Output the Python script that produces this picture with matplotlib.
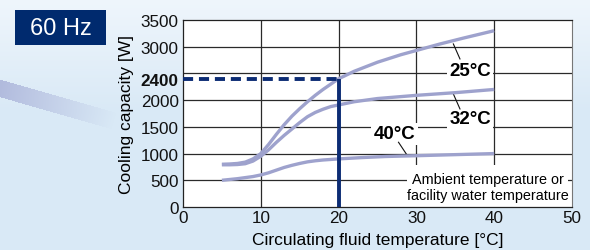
import numpy as np
import matplotlib
matplotlib.use("Agg")
import matplotlib.pyplot as plt
from matplotlib.colors import to_rgb
from matplotlib.patches import Rectangle

plt.rcParams["font.family"] = ["Liberation Sans", "DejaVu Sans"]

# ---- data ----
temp_25 = [5, 6, 7, 8, 9, 10, 11, 12, 13, 14, 15, 16, 17, 18, 19, 20, 22, 25, 28, 30, 33, 36, 40]
cap_25 = [800, 805, 815, 840, 900, 1000, 1170, 1360, 1540, 1700, 1840, 1970, 2090, 2200, 2300, 2400,
          2540, 2710, 2850, 2930, 3050, 3160, 3300]
temp_32 = [5, 6, 7, 8, 9, 10, 11, 12, 13, 14, 15, 16, 17, 18, 19, 20, 22, 25, 30, 35, 40]
cap_32 = [790, 790, 795, 810, 860, 950, 1070, 1210, 1340, 1460, 1580, 1690, 1770, 1830, 1880, 1910,
          1970, 2030, 2090, 2140, 2200]
temp_40 = [5, 7, 9, 10, 11, 12, 13, 14, 15, 16, 17, 18, 20, 23, 26, 30, 35, 40]
cap_40 = [500, 530, 570, 600, 640, 690, 740, 780, 815, 845, 865, 880, 900, 925, 945, 960, 980, 1000]
op_temp = 20
op_cap = 2400
y_ticks = [0, 500, 1000, 1500, 2000, 2400, 3000, 3500]
y_grid = [500, 1000, 1500, 2000, 2500, 3000]
x_ticks = [0, 10, 20, 30, 40, 50]

CURVE = "#9ea2cd"
NAVY = "#0c2c74"
GRID = "#2a2a2a"

W, H = 590, 251
fig = plt.figure(figsize=(W / 100, H / 100), dpi=100)

# background gradient + decorative stripe
bg = fig.add_axes([0, 0, 1, 1])
bg.axis("off")
yy, xx = np.mgrid[0:H, 0:W].astype(float)
top = np.array(to_rgb("#eff6fc"))
bot = np.array(to_rgb("#d9e9f6"))
f = np.clip(yy / (H * 0.45), 0, 1)[..., None]
img = top * (1 - f) + bot * f
ang = np.deg2rad(16)
s = xx * np.cos(ang) + (yy - 89) * np.sin(ang)
d = -xx * np.sin(ang) + (yy - 89) * np.cos(ang)
a = (np.clip(1 - s / 118, 0, 1) * (np.abs(d) < 8.5) * 0.75)[..., None]
img = img * (1 - a) + np.array(to_rgb("#a3abd5")) * a
bg.imshow(img, extent=[0, W, H, 0], aspect="auto")
bg.set_xlim(0, W); bg.set_ylim(H, 0)
bg.add_patch(Rectangle((15, 11), 91, 35, fc="#002a6e", ec="none"))
bg.text(60.5, 29, "60 Hz", color="white", fontsize=17, ha="center", va="center")

# main chart
ax = fig.add_axes([183 / W, 43 / H, 389 / W, 187 / H])
ax.set_facecolor("white")
ax.set_xlim(0, 50); ax.set_ylim(0, 3500)
ax.set_xticks(x_ticks)
ax.set_yticks(y_ticks)
ax.set_yticklabels([str(v) for v in y_ticks])
for lab in ax.get_yticklabels():
    if lab.get_text() == str(op_cap):
        lab.set_fontweight("bold")
ax.tick_params(axis="both", which="both", length=0, labelsize=12.3, colors="#111")
ax.tick_params(axis="y", pad=3)
ax.tick_params(axis="x", pad=2)
ax.grid(False)
for xv in x_ticks[1:-1]:
    ax.axvline(xv, color=GRID, lw=0.9, zorder=0.5)
for yv in y_grid:
    ax.axhline(yv, color=GRID, lw=0.9, zorder=0.5)
for sp in ["left", "bottom", "top"]:
    ax.spines[sp].set_color("#222")
    ax.spines[sp].set_linewidth(0.9)
ax.spines["right"].set_color("#777")
ax.set_xlabel("Circulating fluid temperature [°C]", fontsize=12.5, labelpad=5)
ax.set_ylabel("Cooling capacity [W]", fontsize=12.5, labelpad=5)

ax.plot(temp_25, cap_25, color=CURVE, lw=2.4, solid_capstyle="butt", zorder=3)
ax.plot(temp_32, cap_32, color=CURVE, lw=2.4, solid_capstyle="butt", zorder=3)
ax.plot(temp_40, cap_40, color=CURVE, lw=2.4, solid_capstyle="butt", zorder=3)

ax.plot([0, op_temp], [op_cap, op_cap], color=NAVY, lw=2.8, dashes=(2.6, 1.5), zorder=4, clip_on=False)
ax.plot([op_temp, op_temp], [0, op_cap], color=NAVY, lw=2.8, zorder=4, solid_capstyle="butt")

box = dict(boxstyle="square,pad=0.12", fc="white", ec="none")
ax.text(36.9, 2554, "25°C", fontsize=13.5, fontweight="bold", ha="center", va="center", bbox=box, zorder=2)
ax.text(36.9, 1648, "32°C", fontsize=13.5, fontweight="bold", ha="center", va="center", bbox=box, zorder=2)
ax.text(27.2, 1367, "40°C", fontsize=13.5, fontweight="bold", ha="center", va="center", bbox=box, zorder=2)
for (x0, y0), (x1, y1) in [((34.75, 3052), (35.6, 2771)),
                           ((34.75, 2116), (35.6, 1835)),
                           ((27.7, 1212), (28.7, 993))]:
    ax.plot([x0, x1], [y0, y1], color="#111", lw=0.8, zorder=2)

ax.add_patch(Rectangle((28.8, 0), 20.7, 790, fc="white", ec="none", zorder=1.5))
ax.text(39.25, 375, "Ambient temperature or\nfacility water temperature", fontsize=10.4,
        ha="center", va="center", linespacing=1.25, zorder=2)

fig.savefig("out.png", dpi=100)
